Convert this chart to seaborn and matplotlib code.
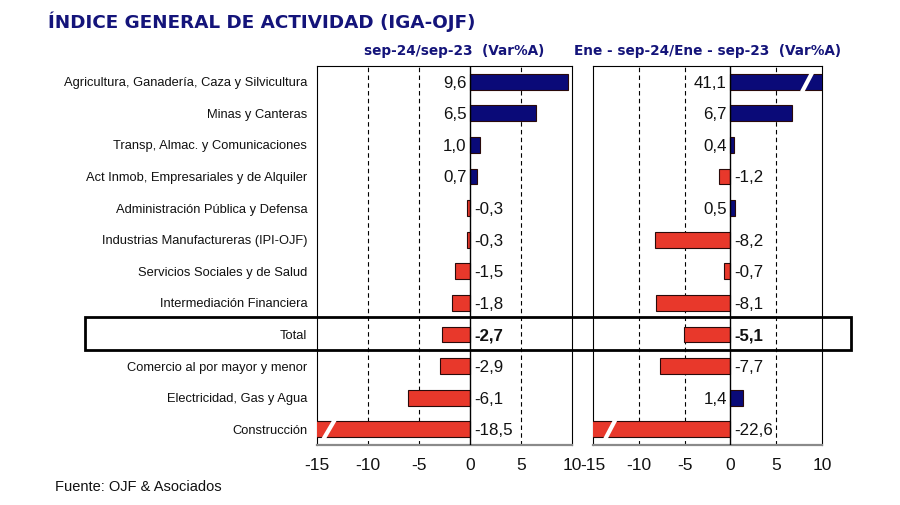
import matplotlib
matplotlib.use("Agg")
import matplotlib.pyplot as plt
import pandas as pd
import seaborn as sns
from matplotlib.patches import Rectangle
from matplotlib.lines import Line2D

# ---------------- data ----------------
categories = [
    "Agricultura, Ganadería, Caza y Silvicultura",
    "Minas y Canteras",
    "Transp, Almac. y Comunicaciones",
    "Act Inmob, Empresariales y de Alquiler",
    "Administración Pública y Defensa",
    "Industrias Manufactureras (IPI-OJF)",
    "Servicios Sociales y de Salud",
    "Intermediación Financiera",
    "Total",
    "Comercio al por mayor y menor",
    "Electricidad, Gas y Agua",
    "Construcción",
]
var_mensual = [9.6, 6.5, 1.0, 0.7, -0.3, -0.3, -1.5, -1.8, -2.7, -2.9, -6.1, -18.5]
var_acumulada = [41.1, 6.7, 0.4, -1.2, 0.5, -8.2, -0.7, -8.1, -5.1, -7.7, 1.4, -22.6]
x_ticks = [-15, -10, -5, 0, 5, 10]
title = "ÍNDICE GENERAL DE ACTIVIDAD (IGA-OJF)"
subtitle_left = "sep-24/sep-23  (Var%A)"
subtitle_right = "Ene - sep-24/Ene - sep-23  (Var%A)"
source = "Fuente: OJF & Asociados"
total_name = "Total"

NAVY = "#0a0a78"
RED = "#e8382b"
TITLE_C = "#14147a"

sns.set_theme(style="white")
plt.rcParams["font.family"] = ["Liberation Sans", "DejaVu Sans"]
plt.rcParams["axes.unicode_minus"] = False

W, H = 900, 505
fig = plt.figure(figsize=(W / 100, H / 100), dpi=100)
ax1 = fig.add_axes([317 / W, 1 - 445 / H, 255 / W, 379 / H])
ax2 = fig.add_axes([593 / W, 1 - 445 / H, 229 / W, 379 / H])

XMIN, XMAX = x_ticks[0], x_ticks[-1]


def panel(ax, values, show_cats, breaks):
    df = pd.DataFrame({
        "cat": categories,
        "val": values,
        "sign": ["pos" if v >= 0 else "neg" for v in values],
    })
    sns.barplot(data=df, y="cat", x="val", hue="sign",
                palette={"pos": NAVY, "neg": RED}, dodge=False,
                legend=False, orient="h", width=0.5, saturation=1,
                edgecolor="#2a0a0a", linewidth=0.8, ax=ax, zorder=3)
    ax.set_xlim(XMIN, XMAX)
    ax.set_xticks(x_ticks)
    ax.set_xticklabels([str(t) for t in x_ticks])
    ax.set_xlabel("")
    ax.set_ylabel("")
    for t in x_ticks[1:-1]:
        if t == 0:
            ax.axvline(t, color="black", lw=1.0, zorder=4)
        else:
            ax.axvline(t, color="black", lw=0.8, ls=(0, (4, 3)), zorder=1)
    for sp in ["left", "right", "top"]:
        ax.spines[sp].set_color("black")
        ax.spines[sp].set_linewidth(0.8)
    ax.spines["bottom"].set_color("#8a8a8a")
    ax.spines["bottom"].set_linewidth(1.6)
    ax.tick_params(axis="x", direction="out", length=5, width=1.2,
                   color="#8a8a8a", labelsize=12.5, labelcolor="#111111", pad=4)
    if show_cats:
        ax.tick_params(axis="y", length=0, pad=7, labelsize=9.3,
                       labelcolor="#111111")
    else:
        ax.set_yticklabels([])
        ax.tick_params(axis="y", length=0)
    for i, (c, v) in enumerate(zip(categories, values)):
        txt = f"{v:.1f}".replace(".", ",")
        weight = "bold" if c == total_name else "normal"
        if v >= 0:
            ax.annotate(txt, (0, i), xytext=(-2.5, -1), textcoords="offset points",
                        ha="right", va="center", fontsize=12.2,
                        fontweight=weight, color="#111111")
        else:
            ax.annotate(txt, (0, i), xytext=(3, -1), textcoords="offset points",
                        ha="left", va="center", fontsize=12.2,
                        fontweight=weight, color="#111111")
    for idx, xa, xb in breaks:
        ax.add_line(Line2D([xa, xb], [idx + 0.33, idx - 0.33], color="white",
                           lw=3, zorder=5, solid_capstyle="butt"))


panel(ax1, var_mensual, True, [(11, -14.4, -13.2)])
panel(ax2, var_acumulada, False, [(0, 7.8, 9.0), (11, -13.7, -12.5)])

fig.text(48 / W, 1 - 22 / H, title, fontsize=13.2, fontweight="bold",
         color=TITLE_C, family="DejaVu Sans", va="center", ha="left")
fig.text(454 / W, 1 - 51 / H, subtitle_left, fontsize=9.8, fontweight="bold",
         color=TITLE_C, family="DejaVu Sans", va="center", ha="center")
fig.text(708 / W, 1 - 51 / H, subtitle_right, fontsize=9.8, fontweight="bold",
         color=TITLE_C, family="DejaVu Sans", va="center", ha="center")
fig.text(55 / W, 1 - 487 / H, source, fontsize=10.5, color="#111111",
         va="center", ha="left")

fig.add_artist(Rectangle((85 / W, 1 - 350 / H), (851 - 85) / W, 33 / H,
                         transform=fig.transFigure, fill=False, lw=2,
                         ec="black", zorder=10))

fig.savefig("out.png", dpi=100)
